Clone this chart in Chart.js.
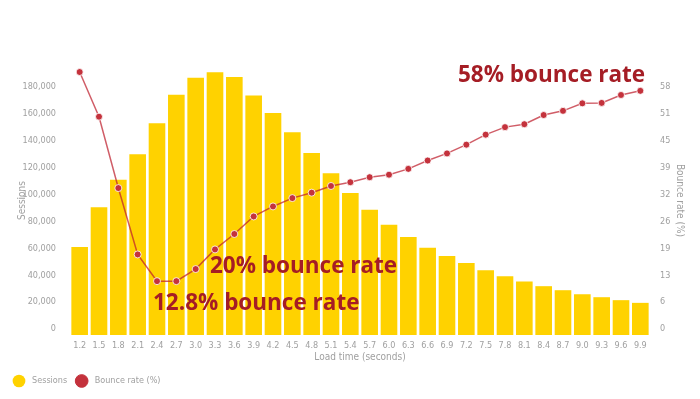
<!DOCTYPE html>
<html>
<head>
<meta charset="utf-8">
<script src="https://cdn.jsdelivr.net/npm/chart.js@4"></script>
<style>
  html, body { margin: 0; padding: 0; background: #fff; }
  #wrap { width: 700px; height: 399px; }
</style>
</head>
<body>
<div id="wrap"><canvas id="myChart"></canvas></div>
<script>
const labels = [
    "1.2", "1.5", "1.8", "2.1", "2.4", "2.7", "3.0", "3.3", "3.6", "3.9",
    "4.2", "4.5", "4.8", "5.1", "5.4", "5.7", "6.0", "6.3", "6.6", "6.9",
    "7.2", "7.5", "7.8", "8.1", "8.4", "8.7", "9.0", "9.3", "9.6", "9.9",
];

// sessions per load time
const sessions = [
    65400, 95000, 115500, 134300, 157500, 178700, 191300, 195300, 191800, 178000,
    165100, 150800, 135300, 120200, 105600, 93100, 81900, 72800, 64900, 58700,
    53500, 48100, 43700, 39700, 36300, 33300, 30300, 28100, 25900, 23900,
];

// bounce rate (%)
const bounce = [
    63.0, 52.3, 35.2, 19.3, 12.9, 12.9, 15.8, 20.5, 24.2, 28.4,
    30.8, 32.8, 34.1, 35.7, 36.6, 37.8, 38.4, 39.8, 41.8, 43.5,
    45.6, 48.0, 49.8, 50.5, 52.7, 53.7, 55.5, 55.6, 57.5, 58.5,
];

const leftTicks = [0, 20000, 40000, 60000, 80000, 100000, 120000, 140000, 160000, 180000];
const rightTickLabels = ["0", "6", "13", "19", "26", "32", "39", "45", "51", "58"];

const leftMax = 200000;
const rightTop = 58; // value at the top right tick
const rightMax = rightTop * leftMax / 180000;

const grey = "#a0a0a0";
const narrow = "'Liberation Sans Narrow', 'DejaVu Sans Condensed', sans-serif";
const tickFont = { family: narrow, size: 9 };

// big callouts
const notes = [
    { text: "58% bounce rate", x: 458, y: 76 },
    { text: "20% bounce rate", x: 210, y: 267 },
    { text: "12.8% bounce rate", x: 153, y: 304 },
];

const notePlugin = {
    id: "notes",
    afterDatasetsDraw(chart) {
        const ctx = chart.ctx;
        ctx.save();
        ctx.font = "bold 22.5px 'Open Sans', Lato, sans-serif";
        ctx.fillStyle = "#a51d25";
        ctx.textBaseline = "middle";
        ctx.textAlign = "left";
        notes.forEach(n => ctx.fillText(n.text, n.x, n.y));
        ctx.restore();
    },
};

const config = {
    type: "bar",
    data: {
        labels: labels,
        datasets: [{
                label: "Sessions",
                data: sessions,
                backgroundColor: "#ffd200",
                borderWidth: 0,
                barPercentage: 0.86,
                categoryPercentage: 1.0,
                yAxisID: "y",
                order: 1,
            },
            {
                type: "line",
                label: "Bounce rate (%)",
                data: bounce,
                borderColor: "rgba(190, 30, 45, 0.72)",
                backgroundColor: "#c4323c",
                borderWidth: 1.5,
                pointRadius: 3.5,
                pointBorderColor: "rgba(255, 255, 255, 0.8)",
                pointBorderWidth: 1,
                pointBackgroundColor: "#c4323c",
                tension: 0,
                yAxisID: "y1",
                order: 0,
            },
        ],
    },
    options: {
        responsive: true,
        maintainAspectRatio: false,
        animation: false,
        layout: { padding: { left: 4.5, right: 0, top: 66, bottom: 3.5 } },
        plugins: {
            tooltip: { enabled: false },
            legend: {
                position: "bottom",
                align: "start",
                labels: {
                    usePointStyle: true,
                    pointStyle: "circle",
                    boxWidth: 9,
                    boxHeight: 9,
                    padding: 10,
                    color: grey,
                    font: { family: narrow, size: 9 },
                    sort: (a, b) => a.datasetIndex - b.datasetIndex,
                    // a little more room between the dot and its text
                    generateLabels: (chart) => Chart.defaults.plugins.legend.labels
                        .generateLabels(chart)
                        .map(item => Object.assign(item, {
                            text: "\u2002" + item.text,
                            fillStyle: item.datasetIndex === 1 ? "#c4323c" : item.fillStyle,
                            strokeStyle: item.datasetIndex === 1 ? "#c4323c" : item.strokeStyle,
                        })),
                },
            },
        },
        scales: {
            x: {
                grid: { display: false, drawTicks: false },
                border: { display: false },
                afterFit: (scale) => { scale.height = 31.5; },
                ticks: {
                    color: grey,
                    font: tickFont,
                    padding: 5,
                    maxRotation: 0,
                    autoSkip: false,
                },
                title: {
                    display: true,
                    text: "Load time (seconds)",
                    color: grey,
                    font: { family: narrow, size: 10 },
                    padding: { top: 1, bottom: 3.5 },
                },
            },
            y: {
                position: "left",
                min: 0,
                max: leftMax,
                grid: { display: false, drawTicks: false },
                border: { display: false },
                afterBuildTicks: (scale) => {
                    scale.ticks = leftTicks.map(v => ({ value: v }));
                },
                afterFit: (scale) => { scale.width = 65.5; },
                ticks: {
                    color: grey,
                    font: tickFont,
                    padding: 14,
                    labelOffset: -6,
                    callback: (v) => v.toLocaleString("en-US"),
                },
                title: {
                    display: true,
                    text: "Sessions",
                    color: grey,
                    font: { family: narrow, size: 10 },
                    padding: { top: 11.5, bottom: 0 },
                },
            },
            y1: {
                position: "right",
                min: 0,
                max: rightMax,
                grid: { display: false, drawTicks: false },
                border: { display: false },
                afterBuildTicks: (scale) => {
                    scale.ticks = rightTickLabels.map((l, i) => ({ value: i * rightTop / 9 }));
                },
                afterFit: (scale) => { scale.width = 50; },
                ticks: {
                    color: grey,
                    font: tickFont,
                    padding: 10,
                    labelOffset: -6,
                    callback: (v, i) => rightTickLabels[i],
                },
                title: {
                    display: true,
                    text: "Bounce rate (%)",
                    color: grey,
                    font: { family: narrow, size: 10 },
                    padding: { top: 14, bottom: 0 },
                },
            },
        },
    },
    plugins: [notePlugin],
};

const myChart = new Chart(document.getElementById("myChart"), config);
</script>
</body>
</html>
